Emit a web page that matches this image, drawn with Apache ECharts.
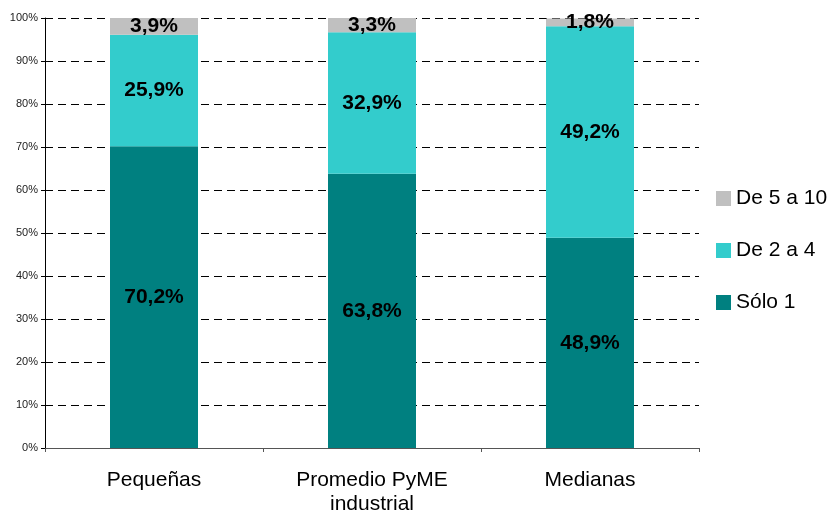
<!DOCTYPE html>
<html><head><meta charset="utf-8">
<script src="https://cdn.jsdelivr.net/npm/echarts@6/dist/echarts.min.js"></script>
<style>html,body{margin:0;padding:0;background:#fff}#c{width:830px;height:516px}</style>
</head><body><div id="c"></div>
<script>
const categories = ['Pequeñas', 'Promedio PyME\nindustrial', 'Medianas'];
const solo1 = [70.2, 63.8, 48.9];
const de2a4 = [25.9, 32.9, 49.2];
const de5a10 = [3.9, 3.3, 1.8];
const yTicks = [0, 10, 20, 30, 40, 50, 60, 70, 80, 90, 100];

const font = 'Arial, "Liberation Sans", sans-serif';
const fmt = p => String(p.value.toFixed(1)).replace('.', ',') + '%';
const lbl = {show: true, position: 'inside', formatter: fmt, color: '#000', fontWeight: 'bold', fontSize: 21, fontFamily: font};

const chart = echarts.init(document.getElementById('c'));
chart.setOption({
  animation: false,
  grid: {left: 45, right: 131, top: 18, bottom: 68},
  legend: {
    orient: 'vertical', left: 711, top: 183, itemWidth: 15, itemHeight: 15, itemGap: 31,
    data: ['De 5 a 10', 'De 2 a 4', 'Sólo 1'],
    textStyle: {fontSize: 21, fontFamily: font, color: '#000', padding: [0, 0, 0, 0]},
    icon: 'rect', itemStyle: {borderWidth: 0}
  },
  xAxis: {
    type: 'category', data: categories,
    axisLine: {lineStyle: {color: '#555', width: 1}},
    axisTick: {show: true, length: 4, lineStyle: {color: '#555'}},
    axisLabel: {fontSize: 21, fontFamily: font, color: '#000', margin: 20, lineHeight: 24, interval: 0}
  },
  yAxis: {
    type: 'value', min: yTicks[0], max: yTicks[yTicks.length - 1], interval: 10,
    axisLine: {show: true, lineStyle: {color: '#000', width: 1}},
    axisTick: {show: true, length: 4, lineStyle: {color: '#000'}},
    axisLabel: {fontSize: 11, fontFamily: font, color: '#222', margin: 7, formatter: v => v + '%'},
    splitLine: {show: true, lineStyle: {color: '#000', type: [8, 5], width: 1}}
  },
  series: [
    {name: 'Sólo 1', type: 'bar', stack: 't', data: solo1, barWidth: 88, itemStyle: {color: '#008080'}, label: lbl},
    {name: 'De 2 a 4', type: 'bar', stack: 't', data: de2a4, barWidth: 88, itemStyle: {color: '#33CCCC'}, label: lbl},
    {name: 'De 5 a 10', type: 'bar', stack: 't', data: de5a10, barWidth: 88, itemStyle: {color: '#C0C0C0'}, label: lbl}
  ]
});
</script></body></html>
